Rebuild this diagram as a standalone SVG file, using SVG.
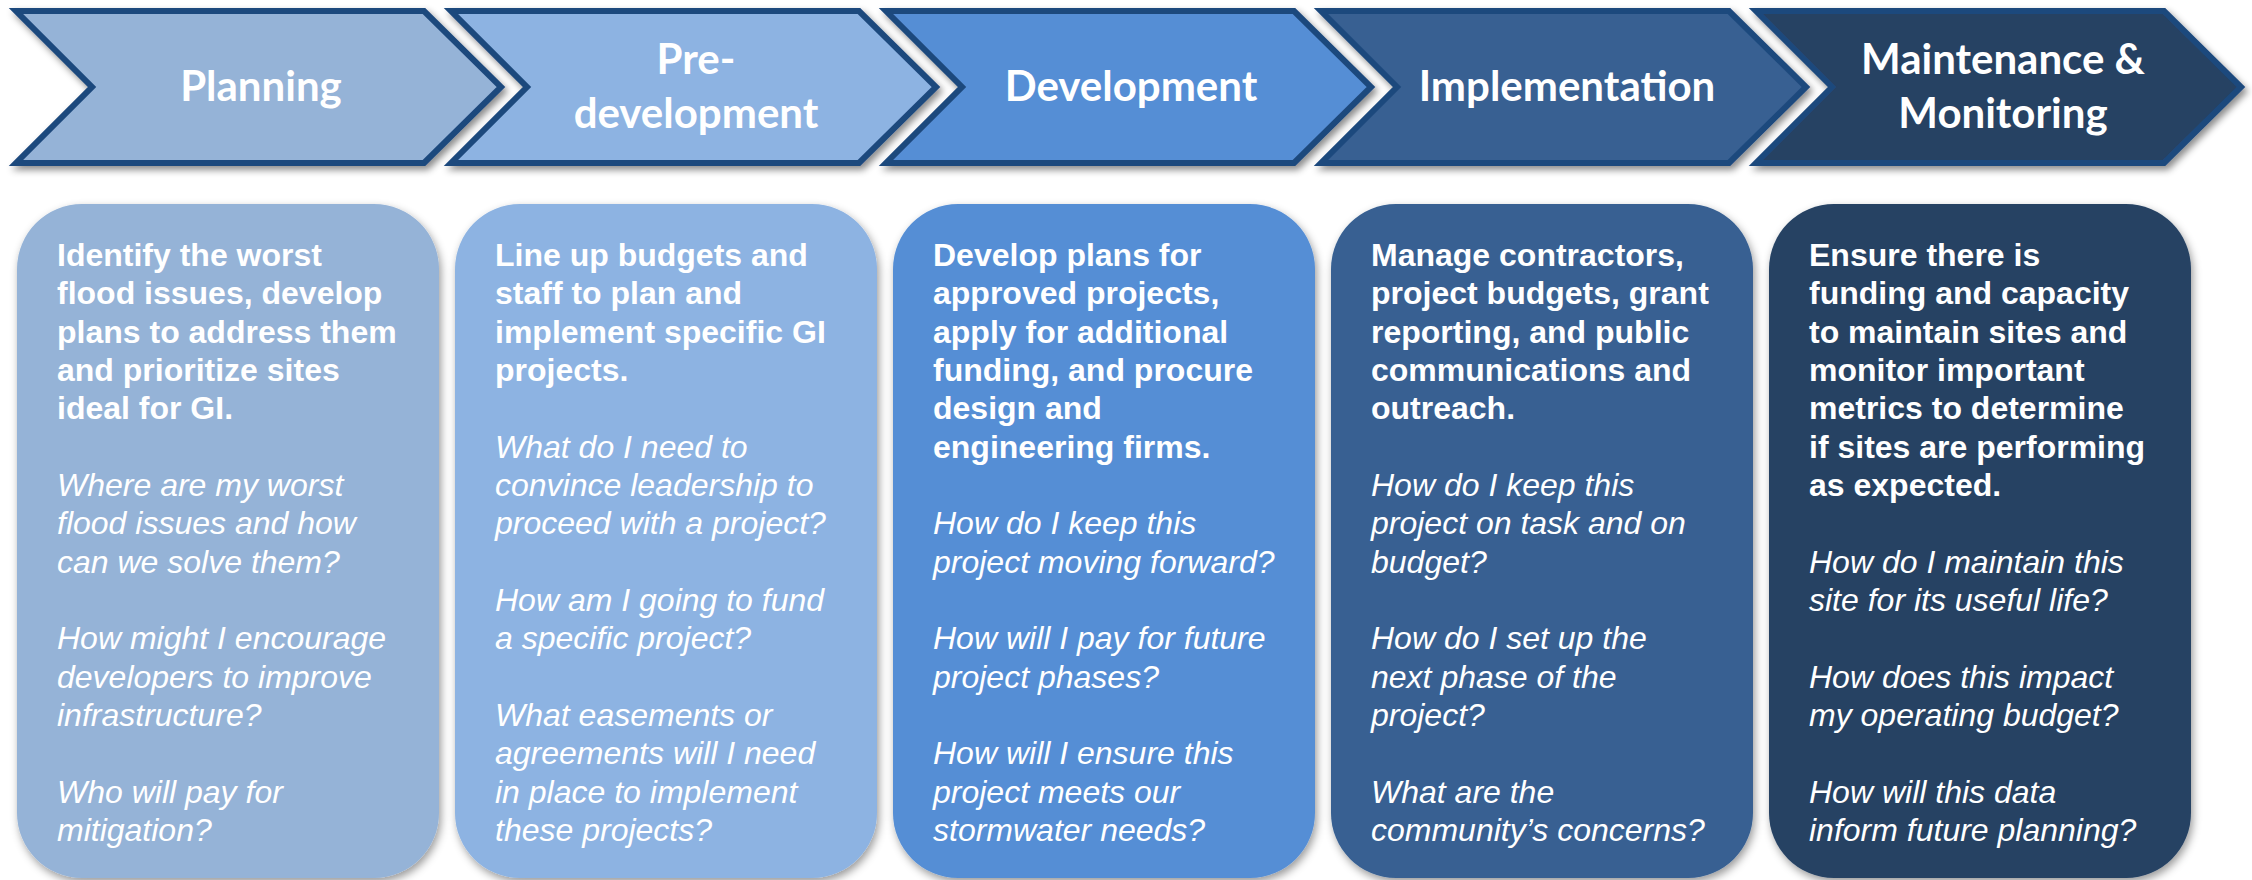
<svg xmlns="http://www.w3.org/2000/svg" width="2252" height="880" viewBox="0 0 2252 880">
<defs>
<filter id="sh" x="-10%" y="-10%" width="120%" height="130%">
<feDropShadow dx="3" dy="4" stdDeviation="3.5" flood-color="#000" flood-opacity="0.45"/>
</filter>
<filter id="shb" x="-10%" y="-10%" width="120%" height="120%">
<feDropShadow dx="2" dy="4" stdDeviation="4" flood-color="#000" flood-opacity="0.4"/>
</filter>
</defs>
<style>
.chev{stroke:#1F497D;stroke-width:6;stroke-linejoin:miter;filter:url(#sh)}
.box{filter:url(#shb)}
.f1{fill:#95B3D7}.f2{fill:#8DB3E2}.f3{fill:#558ED5}.f4{fill:#376092}.f5{fill:#264264}
.ct{font-family:Lato,"Liberation Sans",sans-serif;font-weight:bold;font-size:42px;fill:#FFFFFF;text-anchor:middle}
.bt{font-family:"Liberation Sans",Arial,sans-serif;font-size:32px;fill:#FFFFFF}
.b{font-weight:bold}
.i{font-style:italic}
</style>
<g id="stage-planning">
<polygon class="chev f1" points="16,11 424,11 501,87 424,163 16,163 92,87"/>
<text class="ct" x="261" y="101">Planning</text>
</g>
<g id="stage-predevelopment">
<polygon class="chev f2" points="451,11 859,11 936,87 859,163 451,163 527,87"/>
<text class="ct" x="696" y="74">Pre-</text>
<text class="ct" x="696" y="128">development</text>
</g>
<g id="stage-development">
<polygon class="chev f3" points="886,11 1294,11 1371,87 1294,163 886,163 962,87"/>
<text class="ct" x="1131" y="101">Development</text>
</g>
<g id="stage-implementation">
<polygon class="chev f4" points="1321,11 1729,11 1806,87 1729,163 1321,163 1397,87"/>
<text class="ct" x="1567" y="101">Implementation</text>
</g>
<g id="stage-maintenance">
<polygon class="chev f5" points="1756,11 2164,11 2241,87 2164,163 1756,163 1832,87"/>
<text class="ct" x="2003" y="74">Maintenance &amp;</text>
<text class="ct" x="2003" y="128">Monitoring</text>
</g>

<g id="box-planning">
<rect class="box f1" x="17" y="204" width="422" height="674" rx="65" ry="65"/>
<text class="bt b"><tspan x="57" y="266">Identify the worst</tspan><tspan x="57" y="304.3">flood issues, develop</tspan><tspan x="57" y="342.7">plans to address them</tspan><tspan x="57" y="381">and prioritize sites</tspan><tspan x="57" y="419.3">ideal for GI.</tspan></text>
<text class="bt i"><tspan x="57" y="496">Where are my worst</tspan><tspan x="57" y="534.3">flood issues and how</tspan><tspan x="57" y="572.7">can we solve them?</tspan><tspan x="57" y="649.3">How might I encourage</tspan><tspan x="57" y="687.7">developers to improve</tspan><tspan x="57" y="726">infrastructure?</tspan><tspan x="57" y="802.7">Who will pay for</tspan><tspan x="57" y="841">mitigation?</tspan></text>
</g>
<g id="box-predevelopment">
<rect class="box f2" x="455" y="204" width="422" height="674" rx="65" ry="65"/>
<text class="bt b"><tspan x="495" y="266">Line up budgets and</tspan><tspan x="495" y="304.3">staff to plan and</tspan><tspan x="495" y="342.7">implement specific GI</tspan><tspan x="495" y="381">projects.</tspan></text>
<text class="bt i"><tspan x="495" y="457.7">What do I need to</tspan><tspan x="495" y="496">convince leadership to</tspan><tspan x="495" y="534.3">proceed with a project?</tspan><tspan x="495" y="611">How am I going to fund</tspan><tspan x="495" y="649.3">a specific project?</tspan><tspan x="495" y="726">What easements or</tspan><tspan x="495" y="764.3">agreements will I need</tspan><tspan x="495" y="802.7">in place to implement</tspan><tspan x="495" y="841">these projects?</tspan></text>
</g>
<g id="box-development">
<rect class="box f3" x="893" y="204" width="422" height="674" rx="65" ry="65"/>
<text class="bt b"><tspan x="933" y="266">Develop plans for</tspan><tspan x="933" y="304.3">approved projects,</tspan><tspan x="933" y="342.7">apply for additional</tspan><tspan x="933" y="381">funding, and procure</tspan><tspan x="933" y="419.3">design and</tspan><tspan x="933" y="457.7">engineering firms.</tspan></text>
<text class="bt i"><tspan x="933" y="534.3">How do I keep this</tspan><tspan x="933" y="572.7">project moving forward?</tspan><tspan x="933" y="649.3">How will I pay for future</tspan><tspan x="933" y="687.7">project phases?</tspan><tspan x="933" y="764.3">How will I ensure this</tspan><tspan x="933" y="802.7">project meets our</tspan><tspan x="933" y="841">stormwater needs?</tspan></text>
</g>
<g id="box-implementation">
<rect class="box f4" x="1331" y="204" width="422" height="674" rx="65" ry="65"/>
<text class="bt b"><tspan x="1371" y="266">Manage contractors,</tspan><tspan x="1371" y="304.3">project budgets, grant</tspan><tspan x="1371" y="342.7">reporting, and public</tspan><tspan x="1371" y="381">communications and</tspan><tspan x="1371" y="419.3">outreach.</tspan></text>
<text class="bt i"><tspan x="1371" y="496">How do I keep this</tspan><tspan x="1371" y="534.3">project on task and on</tspan><tspan x="1371" y="572.7">budget?</tspan><tspan x="1371" y="649.3">How do I set up the</tspan><tspan x="1371" y="687.7">next phase of the</tspan><tspan x="1371" y="726">project?</tspan><tspan x="1371" y="802.7">What are the</tspan><tspan x="1371" y="841">community’s concerns?</tspan></text>
</g>
<g id="box-maintenance">
<rect class="box f5" x="1769" y="204" width="422" height="674" rx="65" ry="65"/>
<text class="bt b"><tspan x="1809" y="266">Ensure there is</tspan><tspan x="1809" y="304.3">funding and capacity</tspan><tspan x="1809" y="342.7">to maintain sites and</tspan><tspan x="1809" y="381">monitor important</tspan><tspan x="1809" y="419.3">metrics to determine</tspan><tspan x="1809" y="457.7">if sites are performing</tspan><tspan x="1809" y="496">as expected.</tspan></text>
<text class="bt i"><tspan x="1809" y="572.7">How do I maintain this</tspan><tspan x="1809" y="611">site for its useful life?</tspan><tspan x="1809" y="687.7">How does this impact</tspan><tspan x="1809" y="726">my operating budget?</tspan><tspan x="1809" y="802.7">How will this data</tspan><tspan x="1809" y="841">inform future planning?</tspan></text>
</g>
</svg>
